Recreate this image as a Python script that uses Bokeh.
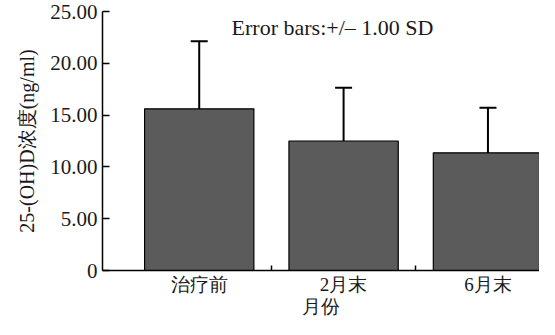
from bokeh.plotting import figure
from bokeh.models import (ColumnDataSource, Range1d, FixedTicker, Whisker, TeeHead, Label)
from bokeh.embed import file_html
from bokeh.resources import INLINE

# ---- data ----
categories = ["治疗前", "2月末", "6月末"]
means = [15.61, 12.50, 11.36]
sds = [6.52, 5.13, 4.35]
y_ticks = [0, 5, 10, 15, 20, 25]
y_tick_labels = ["0", "5.00", "10.00", "15.00", "20.00", "25.00"]
y_label = "25-(OH)D浓度(ng/ml)"
x_label = "月份"
note = "Error bars:+/– 1.00 SD"

FONT = "Liberation Serif"
TXT = "#1a1a1a"

xs = list(range(1, len(categories) + 1))
src = ColumnDataSource(dict(
    x=xs, mean=means,
    lower=[m - s for m, s in zip(means, sds)],
    upper=[m + s for m, s in zip(means, sds)],
))

p = figure(width=539, height=319, output_backend="svg", toolbar_location=None,
           x_range=Range1d(0.330, 3.357), y_range=Range1d(0, 25),
           min_border_left=102, min_border_right=0, min_border_top=11, min_border_bottom=43)
p.outline_line_color = None
p.xgrid.visible = False
p.ygrid.visible = False
p.background_fill_color = "white"
p.border_fill_color = "white"

whisk = Whisker(base="x", lower="lower", upper="upper", source=src,
                line_color="black", line_width=2, level="underlay",
                upper_head=TeeHead(size=17, line_color="black", line_width=2),
                lower_head=None)
p.add_layout(whisk)

p.vbar(x="x", top="mean", bottom=0, width=0.757, source=src,
       fill_color="#5b5b5b", line_color="black", line_width=1.2)

p.add_layout(Label(x=1.224, y=23.5, text=note, text_font=FONT,
                   text_font_size="22px", text_color=TXT, text_baseline="alphabetic"))

# y axis
ya = p.yaxis[0]
ya.ticker = FixedTicker(ticks=y_ticks)
ya.major_label_overrides = {t: l for t, l in zip(y_ticks, y_tick_labels)}
ya.major_tick_in = 7
ya.major_tick_out = 0
ya.minor_tick_line_color = None
ya.major_label_standoff = 5
ya.major_label_text_font = FONT
ya.major_label_text_font_size = "21px"
ya.major_label_text_color = TXT
ya.axis_label = y_label
ya.axis_label_text_font = FONT
ya.axis_label_text_font_size = "20px"
ya.axis_label_text_font_style = "normal"
ya.axis_label_text_color = TXT
ya.axis_label_standoff = 9
ya.axis_line_width = 1.5
ya.major_tick_line_width = 1.5

# x axis
xa = p.xaxis[0]
xa.ticker = FixedTicker(ticks=xs, minor_ticks=[x + 0.5 for x in xs[:-1]])
xa.major_label_overrides = {x: c for x, c in zip(xs, categories)}
xa.major_tick_in = 0
xa.major_tick_out = 0
xa.minor_tick_in = 5
xa.minor_tick_out = 0
xa.minor_tick_line_width = 1.5
xa.major_label_standoff = 3
xa.major_label_text_font = FONT
xa.major_label_text_font_size = "19px"
xa.major_label_text_color = TXT
xa.axis_label = x_label
xa.axis_label_text_font = FONT
xa.axis_label_text_font_size = "19px"
xa.axis_label_text_font_style = "normal"
xa.axis_label_text_color = TXT
xa.axis_label_standoff = -2
xa.axis_line_width = 1.5

open("out.html", "w").write(file_html(p, INLINE))
